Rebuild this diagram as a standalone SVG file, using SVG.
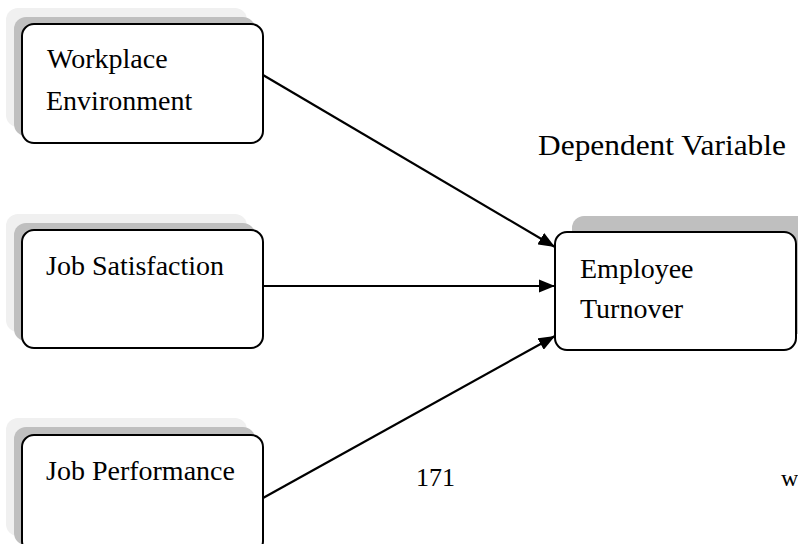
<svg xmlns="http://www.w3.org/2000/svg" width="798" height="544" viewBox="0 0 798 544">
<defs>
<style>
.box{fill:#ffffff;stroke:#000000;stroke-width:2}
.sh1{fill:#f0f0f0}
.sh2{fill:#bfbfbf}
.t{font-family:"Liberation Serif","Times New Roman",serif;font-size:28px;fill:#000000}
.edge{stroke:#000000;stroke-width:2.2;fill:none;marker-end:url(#ah)}
</style>
<marker id="ah" viewBox="0 0 10 10" refX="10" refY="5" markerWidth="7.5" markerHeight="6" markerUnits="strokeWidth" orient="auto" preserveAspectRatio="none">
<path d="M0,0 L10,5 L0,10 z" fill="#000000"/>
</marker>
</defs>
<rect width="798" height="544" fill="#ffffff"/>
<g id="workplace">
<rect class="sh1" x="6" y="8" width="241" height="119" rx="12"/>
<rect class="sh2" x="14" y="17" width="241" height="119" rx="12"/>
<rect class="box" x="22" y="24" width="241" height="119" rx="12"/>
<text class="t" x="47" y="68">Workplace</text>
<text class="t" x="46" y="110">Environment</text>
</g>
<g id="jobsat">
<rect class="sh1" x="6" y="214" width="241" height="118" rx="12"/>
<rect class="sh2" x="14" y="223" width="241" height="118" rx="12"/>
<rect class="box" x="22" y="230" width="241" height="118" rx="12"/>
<text class="t" x="46" y="275">Job Satisfaction</text>
</g>
<g id="jobperf">
<rect class="sh1" x="6" y="418" width="241" height="118" rx="12"/>
<rect class="sh2" x="14" y="427" width="241" height="118" rx="12"/>
<rect class="box" x="22" y="435" width="241" height="118" rx="12"/>
<text class="t" x="46" y="480">Job Performance</text>
</g>
<g id="turnover">
<rect class="sh2" x="572" y="216" width="241" height="118" rx="12"/>
<rect class="box" x="555" y="232" width="241" height="118" rx="12"/>
<text class="t" x="580" y="278">Employee</text>
<text class="t" x="580" y="318">Turnover</text>
</g>
<g id="connectors">
<line class="edge" x1="263" y1="75" x2="555" y2="247"/>
<line class="edge" x1="263" y1="286" x2="555" y2="286"/>
<line class="edge" x1="263" y1="498" x2="555" y2="336"/>
</g>
<text class="t" x="538" y="155" style="font-size:29px" textLength="248" lengthAdjust="spacingAndGlyphs">Dependent Variable</text>
<text class="t" x="416" y="486" style="font-size:26px">171</text>
<text class="t" x="781" y="486" style="font-size:24px">w</text>
</svg>
